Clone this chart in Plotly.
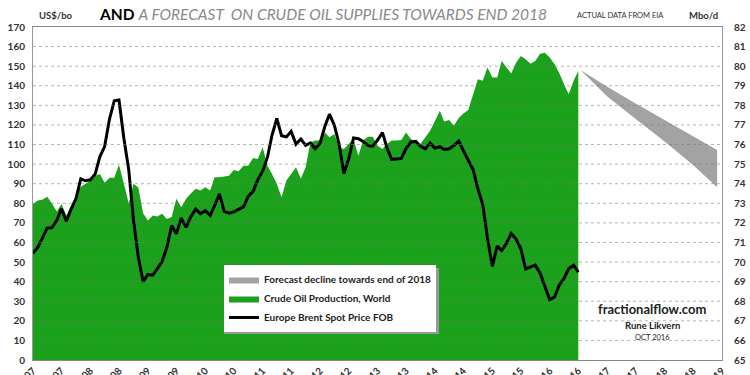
import plotly.graph_objects as go
import pandas as pd

# ---- data ----
brent = [54.5, 57.6, 62.1, 67.4, 67.5, 71.3, 77.2, 70.8, 77.1, 82.3, 92.5, 91.5,
         92.0, 95.0, 103.7, 109.1, 122.8, 132.3, 132.7, 113.2, 97.2, 71.6, 52.5, 40.0,
         43.7, 43.3, 46.5, 50.2, 57.3, 68.6, 64.4, 72.5, 67.7, 73.2, 77.0, 74.7,
         76.2, 73.8, 78.8, 84.8, 75.9, 75.0, 75.6, 77.1, 78.2, 83.5, 86.1, 92.0,
         96.5, 103.7, 114.6, 123.3, 114.5, 113.9, 116.7, 110.2, 112.8, 109.6, 110.8, 107.9,
         110.7, 119.3, 125.5, 119.8, 110.3, 95.2, 102.6, 113.4, 113.0, 111.5, 109.5, 109.2,
         112.3, 116.1, 108.5, 102.3, 102.6, 102.9, 107.9, 111.3, 111.6, 109.1, 107.8, 110.8,
         108.1, 108.9, 107.5, 107.8, 109.5, 111.8, 106.8, 101.6, 97.1, 87.4, 79.4, 62.3,
         47.8, 58.1, 55.9, 59.5, 64.6, 61.7, 56.8, 46.5, 47.6, 48.4, 44.3, 38.0,
         30.7, 32.2, 38.2, 41.6, 46.7, 48.3, 44.9]

production = [72.97, 73.14, 73.18, 73.33, 73.00, 72.58, 72.97, 72.38, 72.90, 73.40,
              73.85, 74.00, 74.15, 74.40, 74.50, 74.05, 74.30, 74.30, 74.97, 74.00,
              73.00, 74.00, 73.80, 72.50, 72.12, 72.38, 72.33, 72.46, 72.20, 72.30,
              73.23, 72.80, 73.23, 73.50, 73.74, 73.65, 73.82, 73.65, 74.33, 74.33,
              74.36, 74.41, 74.70, 74.64, 74.92, 74.92, 75.31, 75.26, 75.86, 74.92,
              74.50, 74.00, 73.31, 74.16, 74.50, 74.84, 74.25, 74.84, 76.10, 76.20,
              76.20, 76.62, 76.37, 76.54, 75.86, 75.77, 76.03, 76.28, 75.43, 76.20,
              76.40, 76.40, 75.94, 75.77, 76.03, 76.20, 76.20, 76.23, 76.62, 76.28,
              76.06, 76.03, 76.37, 76.70, 77.20, 77.72, 77.18, 77.25, 76.96, 77.35,
              77.59, 77.76, 78.57, 79.33, 79.25, 79.93, 79.42, 79.42, 80.27, 79.93,
              79.62, 80.18, 80.52, 80.35, 80.13, 80.27, 80.64, 80.69, 80.44, 80.10,
              79.67, 79.08, 78.57, 79.25, 79.76]

months = pd.date_range("2007-01-01", periods=len(production), freq="MS")

forecast_dates = ["2016-07-15", "2017-01-01", "2017-07-01", "2018-01-01", "2018-07-01", "2018-12-01"]
forecast_upper = [79.80, 78.95, 78.10, 77.25, 76.40, 75.72]
forecast_lower = [79.80, 78.45, 77.30, 76.15, 74.95, 73.82]

left_ticks = list(range(0, 171, 10))
right_ticks = list(range(65, 83))

FONT = "Lato, Carlito, 'Liberation Sans', sans-serif"
GREEN = "#1ba11b"
GRAY = "#a3a3a3"

fig = go.Figure()

fig.add_trace(go.Scatter(x=forecast_dates, y=forecast_lower, yaxis="y", mode="lines",
                         line=dict(width=0, color=GRAY), showlegend=False, hoverinfo="skip"))
fig.add_trace(go.Scatter(x=forecast_dates, y=forecast_upper, yaxis="y", mode="lines",
                         line=dict(width=0, color=GRAY), fill="tonexty", fillcolor=GRAY,
                         name="Forecast decline towards end of 2018"))
fig.add_trace(go.Scatter(x=months, y=production, yaxis="y", mode="lines",
                         line=dict(width=0, color=GREEN), fill="tozeroy", fillcolor=GREEN,
                         name="Crude Oil Production, World"))
fig.add_trace(go.Scatter(x=months, y=brent, yaxis="y2", mode="lines",
                         line=dict(width=3, color="black"),
                         name="Europe Brent Spot Price FOB"))

# dashed grid drawn above the filled area
shapes = []
for v in left_ticks[1:-1]:
    shapes.append(dict(type="line", xref="paper", x0=0, x1=1, yref="y2", y0=v, y1=v,
                       line=dict(color="rgba(120,120,120,0.55)", width=1, dash="dot"),
                       layer="above"))
# legend shadow (paper coords, plot area 33..722 x 27..360 px)
shapes.append(dict(type="rect", xref="paper", yref="paper",
                   x0=(224 - 33) / 689, x1=(439 - 33) / 689,
                   y0=(360 - 334) / 333, y1=(360 - 268) / 333,
                   fillcolor="#9a9a9a", line=dict(width=0), layer="above"))

fig.update_layout(
    width=750, height=375,
    margin=dict(l=33, r=28, t=27, b=15, autoexpand=False),
    paper_bgcolor="white", plot_bgcolor="white",
    font=dict(family=FONT, color="#333333"),
    showlegend=True,
    legend=dict(x=(224 - 33) / 689, y=(360 - 265) / 333, xanchor="left", yanchor="top",
                bgcolor="white", borderwidth=0,
                font=dict(family=FONT, size=10, color="#222222", weight="bold"),
                traceorder="normal", tracegroupgap=0, itemwidth=30),
    xaxis=dict(type="date", range=["2007-01-01", "2019-01-01"], automargin=False,
               tick0="2007-01-01", dtick="M6", tickformat="%b-%y", tickangle=-45,
               showgrid=False, showline=True, linecolor="#888888", mirror=True,
               ticks="", tickfont=dict(size=10, color="#333333", weight="bold")),
    yaxis=dict(range=[65, 82], side="right", tickvals=right_ticks, automargin=False,
               showgrid=False, showline=True, linecolor="#999999", zeroline=False,
               ticks="", ticklabelstandoff=9,
               tickfont=dict(size=10, color="#333333", weight="bold")),
    yaxis2=dict(range=[0, 170], side="left", overlaying="y", tickvals=left_ticks, automargin=False,
                showgrid=False, showline=True, linecolor="#999999", zeroline=False,
                ticks="", ticklabelstandoff=5,
                tickfont=dict(size=10, color="#333333", weight="bold")),
    shapes=shapes,
    annotations=[
        dict(text="<b>AND</b> <i><span style='color:#8a8a8a'>A FORECAST  ON CRUDE OIL SUPPLIES TOWARDS END 2018</span></i>",
             xref="paper", yref="paper", x=(97 - 33) / 689, y=1.0, yshift=13, xanchor="left", yanchor="middle",
             showarrow=False, font=dict(size=15.5, color="black", family=FONT)),
        dict(text="<b>US$/bo</b>", xref="paper", yref="paper", x=(37 - 33) / 689, y=1.0, yshift=12,
             xanchor="left", yanchor="middle", showarrow=False, font=dict(size=9.5, color="#333333")),
        dict(text="ACTUAL DATA FROM EIA", xref="paper", yref="paper", x=(575 - 33) / 689, y=1.0, yshift=12,
             xanchor="left", yanchor="middle", showarrow=False, font=dict(size=7.5, color="#333333")),
        dict(text="<b>Mbo/d</b>", xref="paper", yref="paper", x=(687 - 33) / 689, y=1.0, yshift=12,
             xanchor="left", yanchor="middle", showarrow=False, font=dict(size=9.5, color="#333333")),
        dict(text="<b>fractionalflow.com</b>", xref="paper", yref="paper", x=(652 - 33) / 689,
             y=(360 - 309) / 333, xanchor="center", yanchor="middle", showarrow=False,
             font=dict(size=13, color="#222222")),
        dict(text="<b>Rune Likvern</b>", xref="paper", yref="paper", x=(652 - 33) / 689,
             y=(360 - 325) / 333, xanchor="center", yanchor="middle", showarrow=False,
             font=dict(size=9.5, color="#222222")),
        dict(text="OCT 2016", xref="paper", yref="paper", x=(652 - 33) / 689,
             y=(360 - 337) / 333, xanchor="center", yanchor="middle", showarrow=False,
             font=dict(size=7.5, color="#222222")),
    ],
)

fig.write_html("out.html", config={"displayModeBar": False},
               post_script="document.body.style.margin='0';document.body.style.overflow='hidden';")
